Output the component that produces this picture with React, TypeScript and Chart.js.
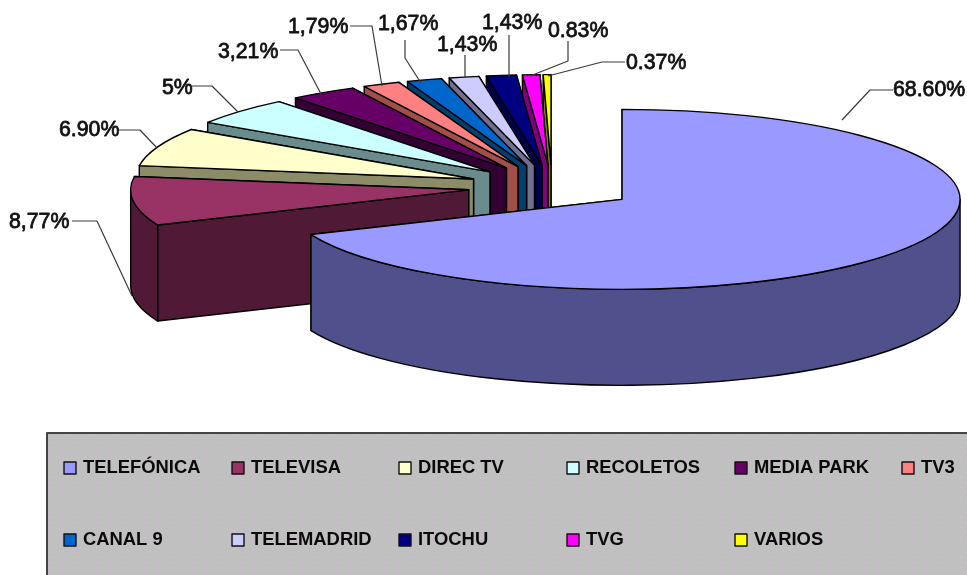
import React, { useEffect, useRef } from "react";
import { Chart, registerables } from "chart.js";

Chart.register(...registerables);

const categories = ["TELEFÓNICA", "TELEVISA", "DIREC TV", "RECOLETOS", "MEDIA PARK", "TV3", "CANAL 9", "TELEMADRID", "ITOCHU", "TVG", "VARIOS"];
const shares = [68.6, 8.77, 6.9, 5, 3.21, 1.79, 1.67, 1.43, 1.43, 0.83, 0.37];
const shareLabels = ["68.60%", "8,77%", "6.90%", "5%", "3,21%", "1,79%", "1,67%", "1,43%", "1,43%", "0.83%", "0.37%"];
const topColors = ["#9999ff", "#993366", "#ffffcc", "#ccffff", "#660066", "#ff8080", "#0066cc", "#ccccff", "#000080", "#ff00ff", "#ffff00"];
const wallColors = ["#50508c", "#501a36", "#8c8c68", "#6a8c8c", "#330033", "#a05048", "#004070", "#70708c", "#000048", "#800080", "#808000"];

// layout only
const W = 967, H = 575, CX = 552, CY = 187, RADIUS = 338, SQUASH = 90 / 338, DEPTH = 96, EXPLODE = 84;
const labelBoxes: [number, number][] = [[893, 96], [9, 228], [59, 136], [162, 94], [218, 58], [288, 33], [378, 30], [437, 51], [482, 29], [548, 37], [626, 69]];
const leaders: [number, number][][] = [
  [[893, 90], [870, 90], [842, 120]],
  [[72, 221], [97, 221], [132, 296]],
  [[118, 130], [140, 130], [157, 148]],
  [[192, 86], [212, 86], [238, 112]],
  [[280, 50], [298, 50], [321, 94]],
  [[350, 26], [372, 26], [382, 86]],
  [[405, 40], [405, 58], [421, 83]],
  [[465, 55], [465, 78]],
  [[509, 35], [509, 77]],
  [[568, 41], [568, 61], [530, 76]],
  [[625, 62], [602, 62], [548, 76]],
];
const legendSwatchX = [64, 232, 399, 567, 735, 902];
const legendRowY = [462, 534];

function dots(ctx: CanvasRenderingContext2D) {
  const c = document.createElement("canvas");
  c.width = 12; c.height = 10;
  const x = c.getContext("2d")!;
  x.fillStyle = "#c0c0c0"; x.fillRect(0, 0, 12, 10);
  x.fillStyle = "#d8b4d8";
  x.fillRect(2, 2, 1, 1); x.fillRect(8, 7, 1, 1);
  x.fillStyle = "#c8c8c8"; x.fillRect(6, 2, 1, 1); x.fillRect(0, 7, 1, 1);
  return ctx.createPattern(c, "repeat")!;
}

const pie3d = {
  id: "pie3d",
  beforeDatasetsDraw(chart: any) {
    const ctx: CanvasRenderingContext2D = chart.ctx;
    const arcs = chart.getDatasetMeta(0).data;
    const order = arcs.map((_: any, i: number) => i).reverse();
    for (const i of order) {
      const arc = arcs[i];
      const { x, y, startAngle: a0, endAngle: a1, outerRadius: r } = arc.getProps(["x", "y", "startAngle", "endAngle", "outerRadius"], true);
      const mid = (a0 + a1) / 2;
      const ex = Math.cos(mid) * EXPLODE, ey = Math.sin(mid) * EXPLODE;
      const sx = (px: number) => px + ex;
      const sy = (py: number) => y + SQUASH * (py + ey - y);
      const ax = sx(x), ay = sy(y);
      const pt = (a: number): [number, number] => [sx(x + r * Math.cos(a)), sy(y + r * Math.sin(a))];
      const outline = () => {
        ctx.lineWidth = 1.4; ctx.strokeStyle = "#000"; ctx.lineJoin = "round"; ctx.stroke();
      };
      const face = (p: [number, number]) => {
        ctx.beginPath();
        ctx.moveTo(ax, ay); ctx.lineTo(p[0], p[1]); ctx.lineTo(p[0], p[1] + DEPTH); ctx.lineTo(ax, ay + DEPTH); ctx.closePath();
        ctx.fillStyle = wallColors[i]; ctx.fill(); outline();
      };
      // the far cut face first, then the near one
      face(pt(a1)); face(pt(a0));
      const w0 = Math.max(a0, 0), w1 = Math.min(a1, Math.PI);
      if (w1 > w0) {
        ctx.beginPath();
        ctx.ellipse(ax, ay, r, r * SQUASH, 0, w0, w1);
        ctx.ellipse(ax, ay + DEPTH, r, r * SQUASH, 0, w1, w0, true);
        ctx.closePath();
        ctx.fillStyle = wallColors[i]; ctx.fill(); outline();
      }
      ctx.save();
      ctx.translate(ex, y);
      ctx.scale(1, SQUASH);
      ctx.translate(0, ey - y);
      arc.draw(ctx);
      ctx.restore();
      ctx.beginPath();
      ctx.moveTo(ax, ay);
      ctx.ellipse(ax, ay, r, r * SQUASH, 0, a0, a1);
      ctx.closePath();
      outline();
    }
    return false;
  },
  afterDraw(chart: any) {
    const ctx: CanvasRenderingContext2D = chart.ctx;
    ctx.save();
    // leader lines and labels
    ctx.strokeStyle = "#3a3a3a"; ctx.lineWidth = 1.2;
    leaders.forEach((path) => {
      ctx.beginPath();
      path.forEach(([px, py], k) => (k ? ctx.lineTo(px, py) : ctx.moveTo(px, py)));
      ctx.stroke();
    });
    ctx.fillStyle = "#111"; ctx.font = "21.3px 'Liberation Sans'"; ctx.textAlign = "left"; ctx.textBaseline = "alphabetic";
    ctx.strokeStyle = "#111"; ctx.lineWidth = 0.8;
    shareLabels.forEach((t, i) => {
      ctx.fillText(t, labelBoxes[i][0], labelBoxes[i][1]);
      ctx.strokeText(t, labelBoxes[i][0], labelBoxes[i][1]);
    });
    // legend box
    ctx.fillStyle = dots(ctx);
    ctx.fillRect(47, 433, W, H);
    ctx.strokeStyle = "#444"; ctx.lineWidth = 2;
    ctx.strokeRect(47, 433, W + 20, H);
    ctx.font = "bold 18.4px 'Liberation Sans'";
    categories.forEach((name, i) => {
      const col = i % 6, row = Math.floor(i / 6);
      const bx = legendSwatchX[col], by = legendRowY[row];
      ctx.fillStyle = topColors[i];
      ctx.fillRect(bx, by, 12, 12);
      ctx.strokeStyle = "#111"; ctx.lineWidth = 1.4;
      ctx.strokeRect(bx, by, 12, 12);
      ctx.fillStyle = "#0a0a0a";
      ctx.fillText(name, bx + 19, by + 11);
    });
    ctx.restore();
  },
};

export default function App() {
  const ref = useRef<HTMLCanvasElement>(null);
  useEffect(() => {
    const chart = new Chart(ref.current!, {
      type: "pie",
      data: {
        labels: categories,
        datasets: [{ data: shares, backgroundColor: topColors, borderWidth: 0 }],
      },
      options: {
        animation: false,
        responsive: false,
        devicePixelRatio: 1,
        radius: RADIUS,
        layout: { padding: { left: 2 * CX - W, bottom: H - 2 * CY } },
        plugins: { legend: { display: false }, tooltip: { enabled: false } },
      } as any,
      plugins: [pie3d],
    });
    return () => chart.destroy();
  }, []);
  return (
    <div style={{ position: "absolute", left: 0, top: 0, width: W, height: H, background: "#fff", overflow: "hidden" }}>
      <canvas ref={ref} width={W} height={H} style={{ display: "block" }} />
    </div>
  );
}
